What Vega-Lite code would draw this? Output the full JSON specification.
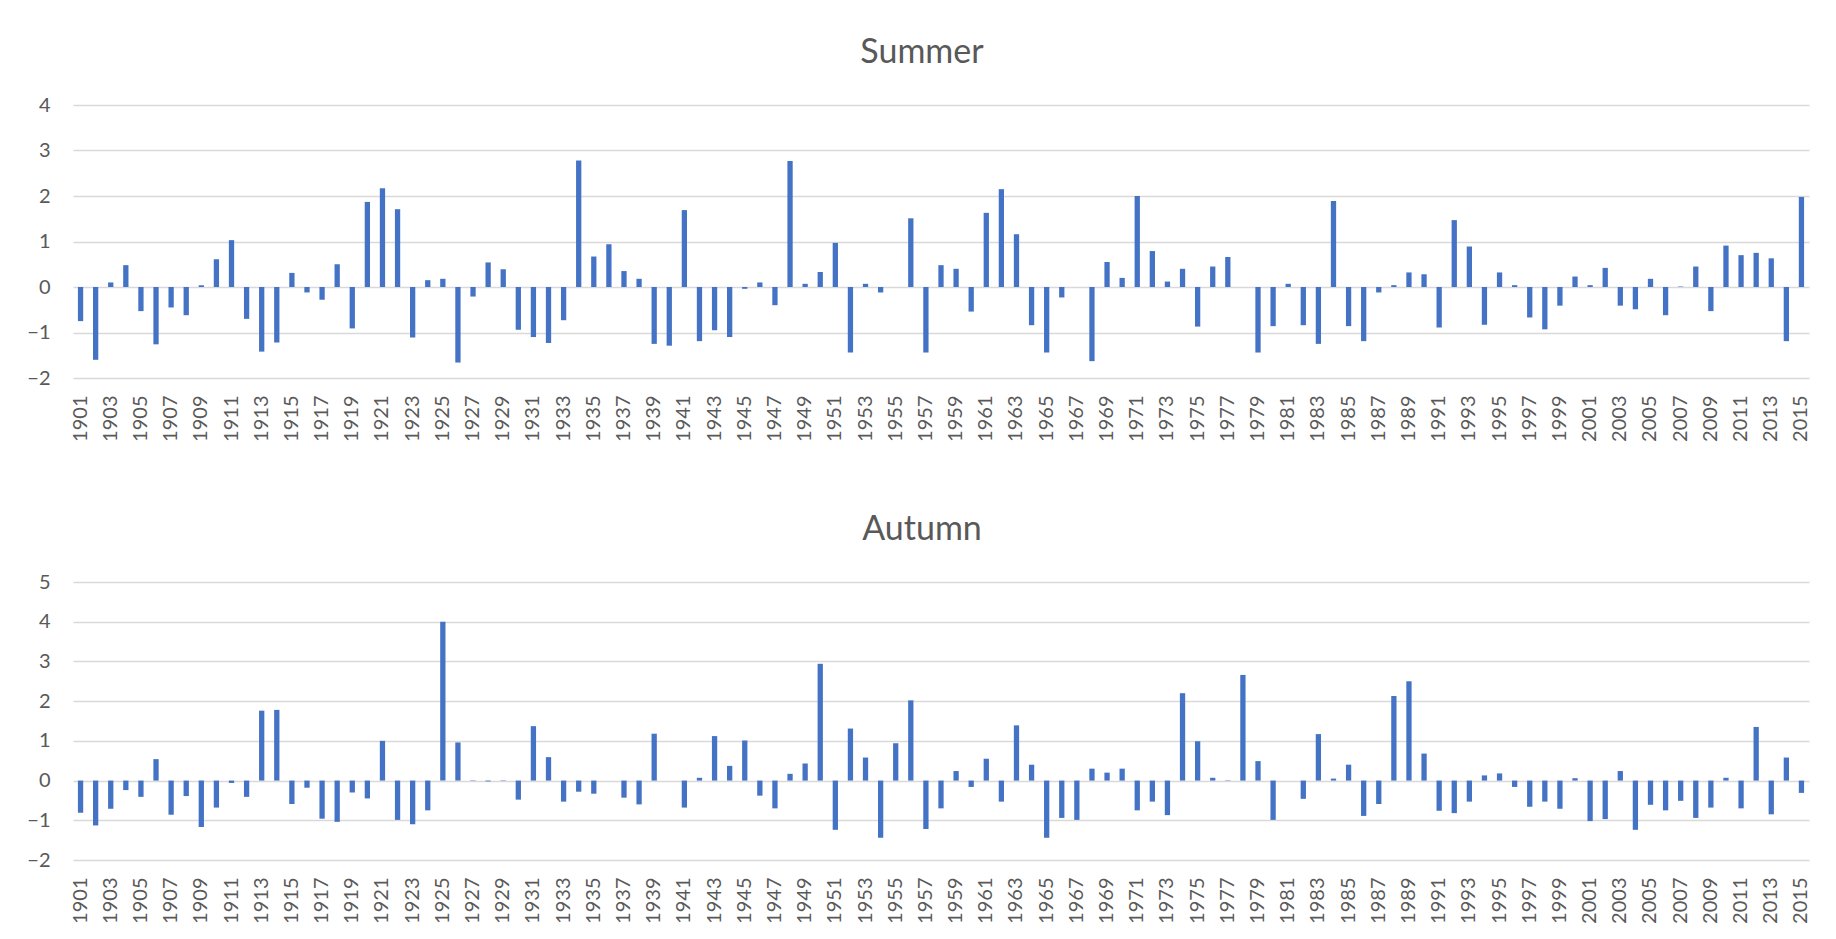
{
  "$schema": "https://vega.github.io/schema/vega-lite/v6.json",
  "background": "white",
  "padding": {"left": 26, "top": 36, "right": 34, "bottom": 5},
  "spacing": 71,
  "config": {
    "view": {"stroke": null},
    "font": "Lato",
    "title": {"fontSize": 34, "font": "Lato", "fontWeight": "normal", "color": "#595959", "anchor": "middle", "baseline": "alphabetic", "offset": 25, "dx": -19},
    "axisX": {"labelAngle": -90, "labelExpr": "datum.value % 2 === 1 ? datum.label : ''", "ticks": false, "domain": false, "labelPadding": 17, "title": null, "labelFontSize": 20, "labelColor": "#595959", "labelFont": "Lato", "labelOverlap": false, "grid": false},
    "axisY": {"ticks": false, "domain": false, "gridColor": "#D9D9D9", "gridWidth": 1.3, "labelPadding": 23, "labelFontSize": 20, "labelColor": "#595959", "labelFont": "Lato", "minExtent": 40, "maxExtent": 40, "title": null}
  },
  "datasets": {
    "summer": [
      {"year":1901,"value":-0.75},{"year":1902,"value":-1.60},{"year":1903,"value":0.10},{"year":1904,"value":0.48},{"year":1905,"value":-0.53},
      {"year":1906,"value":-1.26},{"year":1907,"value":-0.45},{"year":1908,"value":-0.62},{"year":1909,"value":0.04},{"year":1910,"value":0.61},
      {"year":1911,"value":1.03},{"year":1912,"value":-0.70},{"year":1913,"value":-1.42},{"year":1914,"value":-1.22},{"year":1915,"value":0.31},
      {"year":1916,"value":-0.12},{"year":1917,"value":-0.28},{"year":1918,"value":0.50},{"year":1919,"value":-0.91},{"year":1920,"value":1.87},
      {"year":1921,"value":2.17},{"year":1922,"value":1.71},{"year":1923,"value":-1.11},{"year":1924,"value":0.15},{"year":1925,"value":0.18},
      {"year":1926,"value":-1.66},{"year":1927,"value":-0.21},{"year":1928,"value":0.54},{"year":1929,"value":0.39},{"year":1930,"value":-0.94},
      {"year":1931,"value":-1.10},{"year":1932,"value":-1.23},{"year":1933,"value":-0.73},{"year":1934,"value":2.78},{"year":1935,"value":0.67},
      {"year":1936,"value":0.94},{"year":1937,"value":0.35},{"year":1938,"value":0.18},{"year":1939,"value":-1.25},{"year":1940,"value":-1.29},
      {"year":1941,"value":1.69},{"year":1942,"value":-1.19},{"year":1943,"value":-0.95},{"year":1944,"value":-1.10},{"year":1945,"value":-0.04},
      {"year":1946,"value":0.10},{"year":1947,"value":-0.40},{"year":1948,"value":2.77},{"year":1949,"value":0.07},{"year":1950,"value":0.33},
      {"year":1951,"value":0.97},{"year":1952,"value":-1.44},{"year":1953,"value":0.07},{"year":1954,"value":-0.12},{"year":1955,"value":0},
      {"year":1956,"value":1.51},{"year":1957,"value":-1.44},{"year":1958,"value":0.48},{"year":1959,"value":0.40},{"year":1960,"value":-0.54},
      {"year":1961,"value":1.63},{"year":1962,"value":2.15},{"year":1963,"value":1.16},{"year":1964,"value":-0.84},{"year":1965,"value":-1.44},
      {"year":1966,"value":-0.23},{"year":1967,"value":0},{"year":1968,"value":-1.63},{"year":1969,"value":0.55},{"year":1970,"value":0.20},
      {"year":1971,"value":2.00},{"year":1972,"value":0.79},{"year":1973,"value":0.12},{"year":1974,"value":0.40},{"year":1975,"value":-0.87},
      {"year":1976,"value":0.45},{"year":1977,"value":0.66},{"year":1978,"value":0},{"year":1979,"value":-1.44},{"year":1980,"value":-0.86},
      {"year":1981,"value":0.07},{"year":1982,"value":-0.84},{"year":1983,"value":-1.25},{"year":1984,"value":1.89},{"year":1985,"value":-0.86},
      {"year":1986,"value":-1.19},{"year":1987,"value":-0.12},{"year":1988,"value":0.04},{"year":1989,"value":0.32},{"year":1990,"value":0.28},
      {"year":1991,"value":-0.89},{"year":1992,"value":1.47},{"year":1993,"value":0.89},{"year":1994,"value":-0.83},{"year":1995,"value":0.32},
      {"year":1996,"value":0.04},{"year":1997,"value":-0.67},{"year":1998,"value":-0.93},{"year":1999,"value":-0.41},{"year":2000,"value":0.23},
      {"year":2001,"value":0.04},{"year":2002,"value":0.42},{"year":2003,"value":-0.41},{"year":2004,"value":-0.49},{"year":2005,"value":0.18},
      {"year":2006,"value":-0.62},{"year":2007,"value":0.01},{"year":2008,"value":0.45},{"year":2009,"value":-0.53},{"year":2010,"value":0.91},
      {"year":2011,"value":0.70},{"year":2012,"value":0.75},{"year":2013,"value":0.63},{"year":2014,"value":-1.19},{"year":2015,"value":1.98}
    ],
    "autumn": [
      {"year":1901,"value":-0.81},{"year":1902,"value":-1.13},{"year":1903,"value":-0.71},{"year":1904,"value":-0.24},{"year":1905,"value":-0.41},
      {"year":1906,"value":0.54},{"year":1907,"value":-0.86},{"year":1908,"value":-0.39},{"year":1909,"value":-1.17},{"year":1910,"value":-0.68},
      {"year":1911,"value":-0.06},{"year":1912,"value":-0.41},{"year":1913,"value":1.76},{"year":1914,"value":1.78},{"year":1915,"value":-0.59},
      {"year":1916,"value":-0.18},{"year":1917,"value":-0.96},{"year":1918,"value":-1.04},{"year":1919,"value":-0.30},{"year":1920,"value":-0.45},
      {"year":1921,"value":1.00},{"year":1922,"value":-0.99},{"year":1923,"value":-1.10},{"year":1924,"value":-0.75},{"year":1925,"value":4.00},
      {"year":1926,"value":0.96},{"year":1927,"value":-0.01},{"year":1928,"value":-0.02},{"year":1929,"value":-0.01},{"year":1930,"value":-0.48},
      {"year":1931,"value":1.37},{"year":1932,"value":0.59},{"year":1933,"value":-0.53},{"year":1934,"value":-0.28},{"year":1935,"value":-0.33},
      {"year":1936,"value":0},{"year":1937,"value":-0.43},{"year":1938,"value":-0.60},{"year":1939,"value":1.18},{"year":1940,"value":0},
      {"year":1941,"value":-0.68},{"year":1942,"value":0.07},{"year":1943,"value":1.12},{"year":1944,"value":0.37},{"year":1945,"value":1.01},
      {"year":1946,"value":-0.38},{"year":1947,"value":-0.70},{"year":1948,"value":0.17},{"year":1949,"value":0.43},{"year":1950,"value":2.94},
      {"year":1951,"value":-1.24},{"year":1952,"value":1.31},{"year":1953,"value":0.58},{"year":1954,"value":-1.44},{"year":1955,"value":0.94},
      {"year":1956,"value":2.02},{"year":1957,"value":-1.22},{"year":1958,"value":-0.70},{"year":1959,"value":0.24},{"year":1960,"value":-0.16},
      {"year":1961,"value":0.55},{"year":1962,"value":-0.53},{"year":1963,"value":1.39},{"year":1964,"value":0.40},{"year":1965,"value":-1.44},
      {"year":1966,"value":-0.94},{"year":1967,"value":-0.99},{"year":1968,"value":0.30},{"year":1969,"value":0.20},{"year":1970,"value":0.30},
      {"year":1971,"value":-0.75},{"year":1972,"value":-0.53},{"year":1973,"value":-0.87},{"year":1974,"value":2.20},{"year":1975,"value":0.99},
      {"year":1976,"value":0.07},{"year":1977,"value":-0.01},{"year":1978,"value":2.66},{"year":1979,"value":0.49},{"year":1980,"value":-0.99},
      {"year":1981,"value":0},{"year":1982,"value":-0.46},{"year":1983,"value":1.17},{"year":1984,"value":0.05},{"year":1985,"value":0.40},
      {"year":1986,"value":-0.89},{"year":1987,"value":-0.59},{"year":1988,"value":2.13},{"year":1989,"value":2.50},{"year":1990,"value":0.68},
      {"year":1991,"value":-0.76},{"year":1992,"value":-0.82},{"year":1993,"value":-0.53},{"year":1994,"value":0.13},{"year":1995,"value":0.18},
      {"year":1996,"value":-0.16},{"year":1997,"value":-0.66},{"year":1998,"value":-0.53},{"year":1999,"value":-0.71},{"year":2000,"value":0.06},
      {"year":2001,"value":-1.02},{"year":2002,"value":-0.97},{"year":2003,"value":0.24},{"year":2004,"value":-1.24},{"year":2005,"value":-0.61},
      {"year":2006,"value":-0.75},{"year":2007,"value":-0.51},{"year":2008,"value":-0.94},{"year":2009,"value":-0.68},{"year":2010,"value":0.07},
      {"year":2011,"value":-0.70},{"year":2012,"value":1.35},{"year":2013,"value":-0.85},{"year":2014,"value":0.58},{"year":2015,"value":-0.31}
    ]
  },
  "vconcat": [
    {
      "data": {"name": "summer"},
      "title": {"text": "Summer"},
      "width": 1736,
      "height": 273,
      "mark": {"type": "bar", "color": "#4472C4"},
      "encoding": {
        "x": {"field": "year", "type": "ordinal", "scale": {"paddingInner": 0.65, "paddingOuter": 0.325}, "axis": {"title": null}},
        "y": {"field": "value", "type": "quantitative", "scale": {"domain": [-2, 4], "nice": false}, "axis": {"values": [-2, -1, 0, 1, 2, 3, 4], "title": null}}
      }
    },
    {
      "data": {"name": "autumn"},
      "title": {"text": "Autumn"},
      "width": 1736,
      "height": 278,
      "mark": {"type": "bar", "color": "#4472C4"},
      "encoding": {
        "x": {"field": "year", "type": "ordinal", "scale": {"paddingInner": 0.65, "paddingOuter": 0.325}, "axis": {"title": null}},
        "y": {"field": "value", "type": "quantitative", "scale": {"domain": [-2, 5], "nice": false}, "axis": {"values": [-2, -1, 0, 1, 2, 3, 4, 5], "title": null}}
      }
    }
  ]
}
